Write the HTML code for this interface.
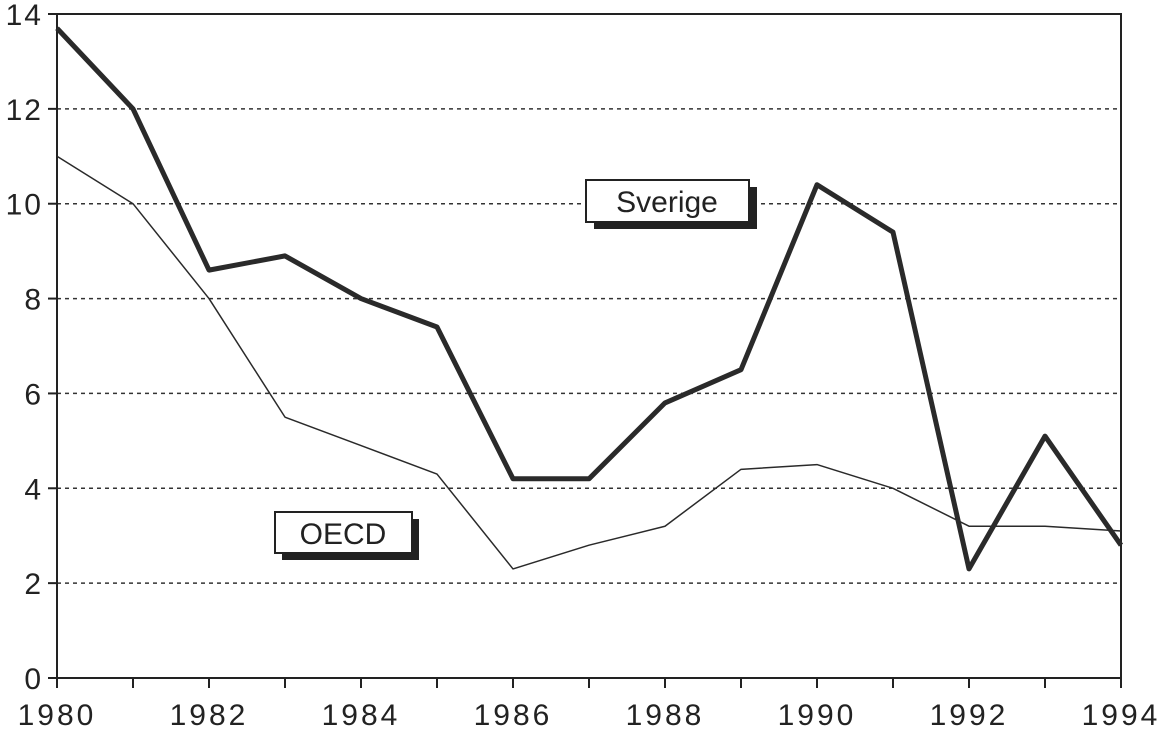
<!DOCTYPE html>
<html><head><meta charset="utf-8"><style>
body{margin:0;background:#fff;}
svg{display:block;font-family:"Liberation Sans",sans-serif;}
</style></head><body>
<svg id="chart" width="1165" height="730">
<g id="grid"></g>
<g id="axes"></g>
<g id="series"></g>
<g>
<rect x="594" y="187" width="163" height="42" fill="#222"/>
<rect x="586" y="180" width="163" height="42" fill="#fff" stroke="#222" stroke-width="2"/>
<text x="667" y="212" font-size="30" text-anchor="middle" fill="#222">Sverige</text>
</g>
<g>
<rect x="282" y="519" width="137" height="41" fill="#222"/>
<rect x="275" y="512" width="137" height="41" fill="#fff" stroke="#222" stroke-width="2"/>
<text x="343" y="544" font-size="30" text-anchor="middle" fill="#222">OECD</text>
</g>
</svg>
<script>
const years=[1980,1981,1982,1983,1984,1985,1986,1987,1988,1989,1990,1991,1992,1993,1994];
const sverige=[13.7,12.0,8.6,8.9,8.0,7.4,4.2,4.2,5.8,6.5,10.4,9.4,2.3,5.1,2.8];
const oecd=[11.0,10.0,8.0,5.5,4.9,4.3,2.3,2.8,3.2,4.4,4.5,4.0,3.2,3.2,3.1];
const yTicks=[0,2,4,6,8,10,12,14];
const xTickLabels=[1980,1982,1984,1986,1988,1990,1992,1994];
const X0=57,X1=1121,Y0=678,Y1=14;
const xs=v=>X0+(v-1980)*(X1-X0)/14;
const ys=v=>Y0-v*(Y0-Y1)/14;
const NS="http://www.w3.org/2000/svg";
function mk(p,tag,a){const e=document.createElementNS(NS,tag);for(const k in a)e.setAttribute(k,a[k]);p.appendChild(e);return e;}
const grid=document.getElementById('grid'),axes=document.getElementById('axes'),ser=document.getElementById('series');
yTicks.forEach(t=>{
 if(t>0&&t<14){const g=mk(grid,'line',{x1:X0,x2:X1,y1:ys(t),y2:ys(t),stroke:'#333','stroke-width':1.5,'stroke-dasharray':'4,4'});
 
 }
 const tk=mk(axes,'line',{x1:X0-9,x2:X0,y1:ys(t),y2:ys(t),stroke:'#222','stroke-width':2});
 
 
 const tx=mk(axes,'text',{x:X0-14,y:ys(t)+11,'font-size':30,'text-anchor':'end',fill:'#222','letter-spacing':'2'});
 tx.textContent=t;
 
 
});
const fr=mk(axes,'rect',{x:X0,y:Y1,width:X1-X0,height:Y0-Y1,fill:'none',stroke:'#222','stroke-width':2});


years.forEach(y=>{
 const tk=mk(axes,'line',{x1:xs(y),x2:xs(y),y1:Y0,y2:Y0+10,stroke:'#222','stroke-width':2});
 
 
});
xTickLabels.forEach(y=>{
 const tx=mk(axes,'text',{x:xs(y),y:Y0+47,'font-size':30,'text-anchor':'middle',fill:'#222','letter-spacing':'3'});
 tx.textContent=y;
 
 
});
function line(data,w,name){
 const p=mk(ser,'polyline',{points:data.map((v,i)=>xs(years[i])+','+ys(v)).join(' '),fill:'none',stroke:'#2a2a2a','stroke-width':w,'stroke-linejoin':'round'});
 
 
}
line(oecd,1.5,'oecd-line');
line(sverige,5,'sverige-line');
</script>
</body></html>
